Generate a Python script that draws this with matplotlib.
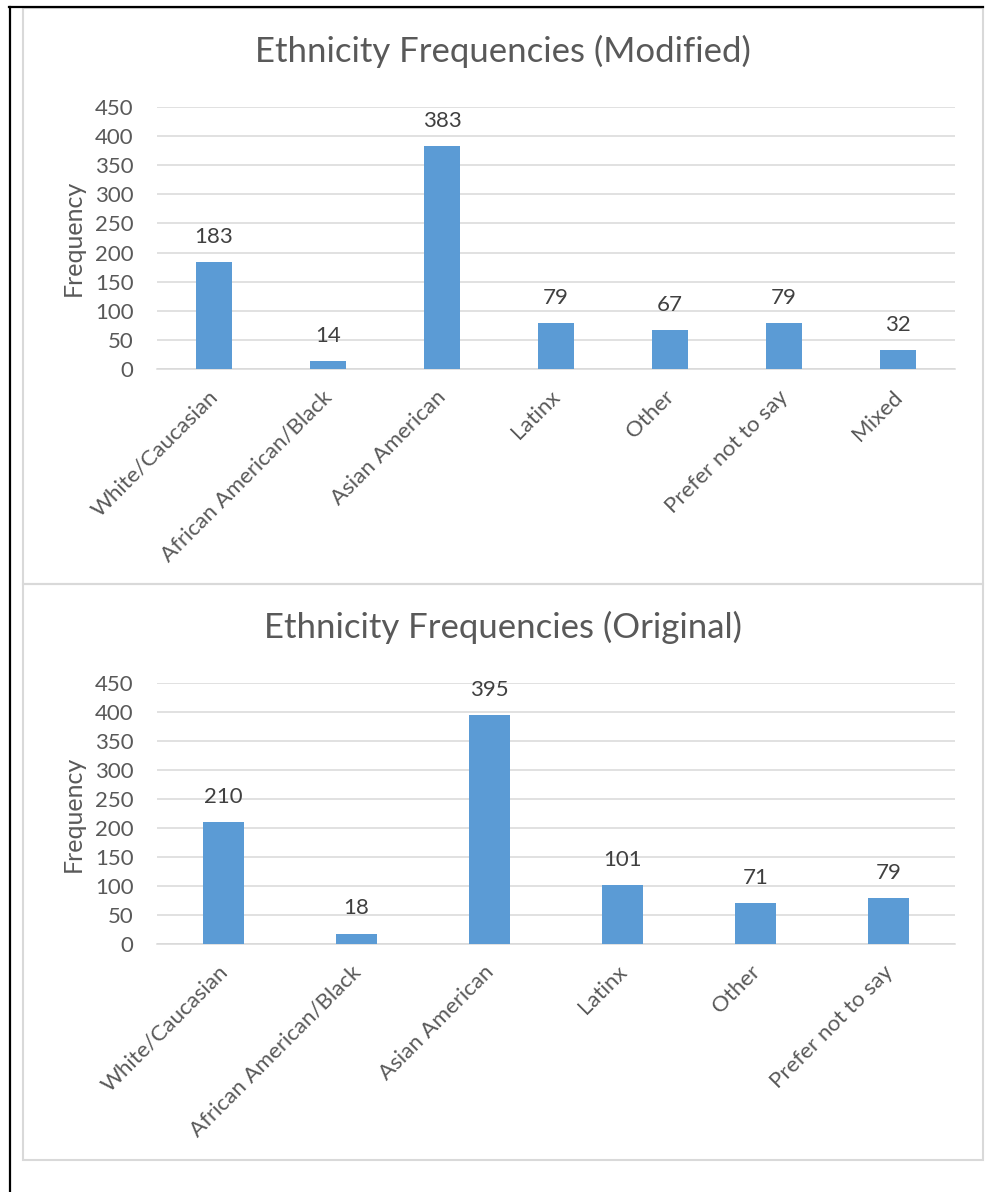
import matplotlib
matplotlib.use("Agg")
import matplotlib.pyplot as plt
from matplotlib.lines import Line2D
from matplotlib.patches import Rectangle
import matplotlib.transforms as mtransforms

# ---- data -------------------------------------------------------------
modified_categories = ["White/Caucasian", "African American/Black", "Asian American",
                       "Latinx", "Other", "Prefer not to say", "Mixed"]
modified_counts = [183, 14, 383, 79, 67, 79, 32]

original_categories = ["White/Caucasian", "African American/Black", "Asian American",
                       "Latinx", "Other", "Prefer not to say"]
original_counts = [210, 18, 395, 101, 71, 79]

y_ticks = [0, 50, 100, 150, 200, 250, 300, 350, 400, 450]

# ---- style ------------------------------------------------------------
W, H = 986, 1192
DPI = 100
plt.rcParams["font.family"] = ["Lato", "DejaVu Sans"]
BAR = "#5b9bd5"
GRID = "#d9d9d9"
TXT = "#595959"
LBL = "#404040"
FS = 16

fig = plt.figure(figsize=(W / DPI, H / DPI), dpi=DPI)
fig.patch.set_facecolor("white")


def fx(px):
    return px / W


def fy(py):
    return 1 - py / H


def chart(box_top, box_bottom, ax_top, ax_bottom, title, cats, vals):
    # light frame around the chart area
    fig.add_artist(Rectangle((fx(23), fy(box_bottom)), fx(983) - fx(23),
                             fy(box_top) - fy(box_bottom), transform=fig.transFigure,
                             fill=False, edgecolor=GRID, linewidth=1.5))
    ax = fig.add_axes([fx(157), fy(ax_bottom), fx(955) - fx(157), fy(ax_top) - fy(ax_bottom)])
    x = list(range(len(cats)))
    ax.bar(x, vals, width=0.31, color=BAR, zorder=3)
    ax.set_xlim(-0.5, len(cats) - 0.5)
    ax.set_ylim(0, 450)
    ax.set_yticks(y_ticks)
    ax.set_yticklabels([str(t) for t in y_ticks])
    ax.yaxis.grid(True, color=GRID, linewidth=1.1, zorder=0)
    ax.set_axisbelow(True)
    for s in ["top", "right", "left"]:
        ax.spines[s].set_visible(False)
    ax.spines["bottom"].set_color(GRID)
    ax.spines["bottom"].set_linewidth(1.1)
    ax.tick_params(axis="both", length=0, labelsize=FS, colors=TXT)
    ax.tick_params(axis="y", pad=17)
    ax.set_xticks(x)
    ax.set_xticklabels(cats, rotation=45, ha="right", rotation_mode="anchor")
    offset = mtransforms.ScaledTranslation(-6 / DPI, -13 / DPI, fig.dpi_scale_trans)
    for lab in ax.get_xticklabels():
        lab.set_transform(lab.get_transform() + offset)
    ax.set_ylabel("Frequency", fontsize=18, color=TXT, labelpad=7)
    for xi, v in zip(x, vals):
        ax.annotate(str(v), (xi, v), xytext=(0, 11), textcoords="offset points",
                    ha="center", va="bottom", fontsize=FS, color=LBL)
    fig.text(fx(503), fy((box_top + ax_top) / 2 - 6), title, ha="center", va="center",
             fontsize=25, color=TXT)
    return ax


chart(8, 584, 107, 369, "Ethnicity Frequencies (Modified)", modified_categories, modified_counts)
chart(584, 1160, 683, 944, "Ethnicity Frequencies (Original)", original_categories, original_counts)

# outer page border lines
fig.add_artist(Line2D([fx(10), fx(10)], [fy(7), fy(1192)], transform=fig.transFigure,
                      color="black", linewidth=1.6))
fig.add_artist(Line2D([fx(9), fx(983)], [fy(7), fy(7)], transform=fig.transFigure,
                      color="black", linewidth=1.6))

fig.savefig("out.png", dpi=DPI, facecolor="white")
